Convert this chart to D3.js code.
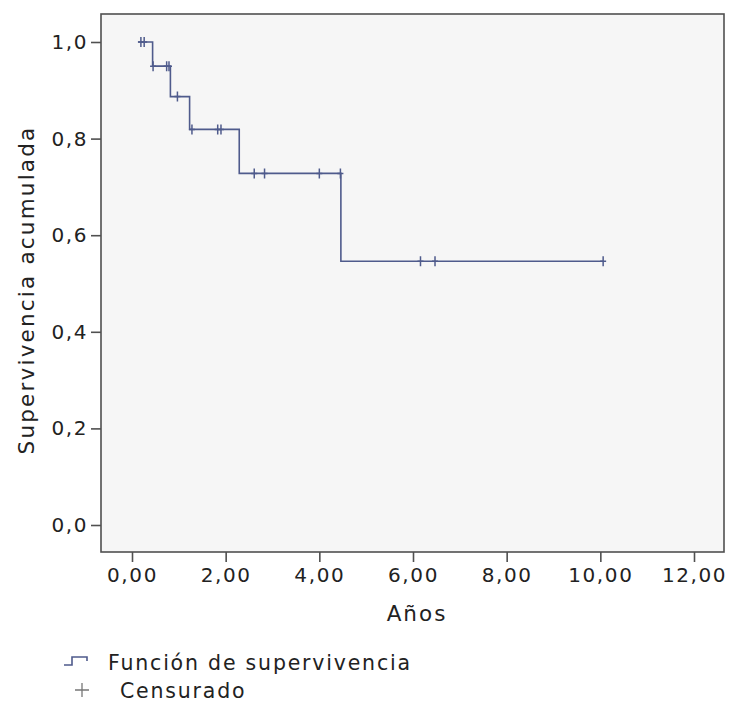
<!DOCTYPE html>
<html>
<head>
<meta charset="utf-8">
<script src="https://cdn.jsdelivr.net/npm/d3@7"></script>
<style>
  body { margin: 0; background: #fff; }
  text { font-family: "DejaVu Sans", Verdana, sans-serif; fill: #222; }
</style>
</head>
<body>
<div id="chart"></div>
<script>
// data (years, cumulative survival)
const stepTimes = [0.13, 0.44, 0.82, 1.23, 2.29, 4.46];
const stepSurv = [1.0, 0.95, 0.887, 0.819, 0.728, 0.546];
const lastTime = 10.06;
const censorTimes = [0.19, 0.26, 0.45, 0.74, 0.79, 0.97, 1.28, 1.83, 1.90,
  2.61, 2.83, 4.0, 4.45, 6.16, 6.47, 10.06];
const xTicks = [0, 2, 4, 6, 8, 10, 12];
const yTicks = [0, 0.2, 0.4, 0.6, 0.8, 1.0];

const width = 737, height = 704;
const frame = { left: 101, right: 724, top: 14, bottom: 552 };
const lineColor = "#4f5b8c";
const fontSize = 20;

const svg = d3.select("#chart").append("svg")
  .attr("width", width)
  .attr("height", height);

const x = d3.scaleLinear().domain([0, 12]).range([132, 694]);
const y = d3.scaleLinear().domain([0, 1]).range([525, 42]);

// plot area
svg.append("rect")
  .attr("x", frame.left).attr("y", frame.top)
  .attr("width", frame.right - frame.left)
  .attr("height", frame.bottom - frame.top)
  .attr("fill", "#f6f6f6")
  .attr("stroke", "#505050")
  .attr("stroke-width", 1.6);

const comma = d => d3.format(".2f")(d).replace(".", ",");
const comma1 = d => d3.format(".1f")(d).replace(".", ",");

const xAxis = svg.append("g")
  .attr("transform", `translate(0,${frame.bottom})`)
  .call(d3.axisBottom(x).tickValues(xTicks).tickSize(10).tickSizeOuter(0).tickPadding(6).tickFormat(comma));
const yAxis = svg.append("g")
  .attr("transform", `translate(${frame.left},0)`)
  .call(d3.axisLeft(y).tickValues(yTicks).tickSize(10).tickSizeOuter(0).tickPadding(3).tickFormat(comma1));

[xAxis, yAxis].forEach(g => {
  g.select(".domain").remove();
  g.selectAll(".tick line").attr("stroke", "#505050").attr("stroke-width", 1.6);
  g.selectAll(".tick text")
    .style("font-size", fontSize + "px")
    .style("letter-spacing", "1.6px")
    .attr("fill", "#222");
});

// axis titles
svg.append("text")
  .attr("x", 417)
  .attr("y", 621)
  .attr("text-anchor", "middle")
  .style("font-size", "21.5px")
  .style("letter-spacing", "2px")
  .text("Años");

svg.append("text")
  .attr("transform", "translate(34,290) rotate(-90)")
  .attr("text-anchor", "middle")
  .style("font-size", "21.5px")
  .style("letter-spacing", "2.2px")
  .text("Supervivencia acumulada");

// survival step function
const pts = stepTimes.map((t, i) => [t, stepSurv[i]]);
pts.push([lastTime, stepSurv[stepSurv.length - 1]]);

const line = d3.line()
  .x(d => x(d[0]))
  .y(d => y(d[1]))
  .curve(d3.curveStepAfter);

svg.append("path")
  .datum(pts)
  .attr("d", line)
  .attr("fill", "none")
  .attr("stroke", lineColor)
  .attr("stroke-width", 1.6);

// survival value at a censoring time
function survAt(t) {
  let s = stepSurv[0];
  stepTimes.forEach((st, i) => { if (st <= t) s = stepSurv[i]; });
  return s;
}

const cross = svg.append("g")
  .attr("stroke", lineColor)
  .attr("stroke-width", 1.5);
cross.selectAll("path")
  .data(censorTimes)
  .join("path")
  .attr("d", t => {
    const cx = x(t), cy = y(survAt(t));
    return `M${cx},${cy - 5}V${cy + 5}M${cx - 3},${cy}H${cx + 3}`;
  });

// legend
svg.append("path")
  .attr("d", "M64,665H72V657H87V661")
  .attr("fill", "none")
  .attr("stroke", lineColor)
  .attr("stroke-width", 1.6);
svg.append("text")
  .attr("x", 108).attr("y", 670)
  .style("font-size", "20.5px")
  .style("letter-spacing", "1.8px")
  .text("Función de supervivencia");

svg.append("path")
  .attr("d", "M82,683V697M75,690H89")
  .attr("stroke", "#777")
  .attr("stroke-width", 1.3);
svg.append("text")
  .attr("x", 120).attr("y", 698)
  .style("font-size", "20.5px")
  .style("letter-spacing", "1.8px")
  .text("Censurado");
</script>
</body>
</html>
